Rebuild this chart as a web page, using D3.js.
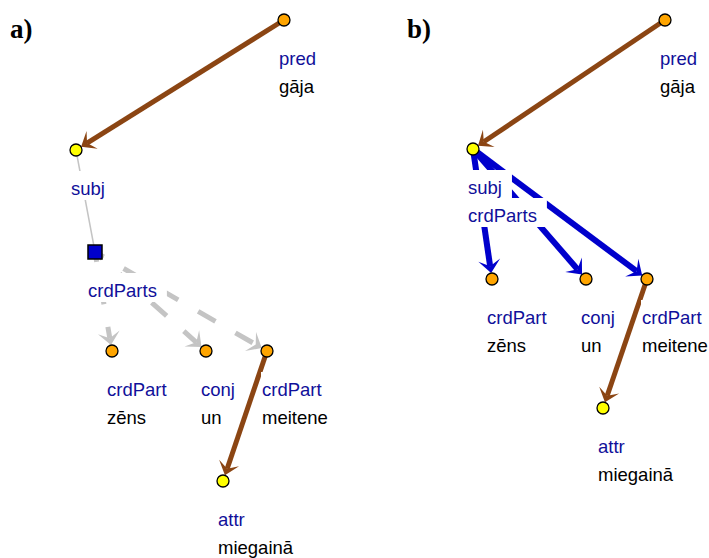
<!DOCTYPE html>
<html>
<head>
<meta charset="utf-8">
<script src="https://cdn.jsdelivr.net/npm/d3@7"></script>
<style>
  body { margin: 0; background: #fff; }
</style>
</head>
<body>
<div id="chart"></div>
<script>

// panel titles
var panelTitles = ["a)", "b)"];

// panel a: coordination as its own (square) node
var nodesA = [
  {id: "pred", roles: ["pred"], word: "gāja", x: 284, y: 20, kind: "orange"},
  {id: "subj", roles: ["subj"], word: "", x: 76, y: 150, kind: "yellow"},
  {id: "crd", roles: ["crdParts"], word: "", x: 95, y: 252, kind: "square"},
  {id: "zens", roles: ["crdPart"], word: "zēns", x: 112, y: 351, kind: "orange"},
  {id: "un", roles: ["conj"], word: "un", x: 206, y: 351, kind: "orange"},
  {id: "meit", roles: ["crdPart"], word: "meitene", x: 267, y: 351, kind: "orange"},
  {id: "attr", roles: ["attr"], word: "miegainā", x: 223, y: 481, kind: "yellow"}
];
var edgesA = [
  ["pred", "subj", "brown"],
  ["subj", "crd", "thin"],
  ["crd", "zens", "dash"],
  ["crd", "un", "dash"],
  ["crd", "meit", "dash"],
  ["meit", "attr", "brown"]
];

// panel b: coordination merged into subj
var nodesB = [
  {id: "pred", roles: ["pred"], word: "gāja", x: 284, y: 20, kind: "orange"},
  {id: "subj", roles: ["subj", "crdParts"], word: "", x: 92, y: 149, kind: "yellow"},
  {id: "zens", roles: ["crdPart"], word: "zēns", x: 111, y: 279, kind: "orange"},
  {id: "un", roles: ["conj"], word: "un", x: 205, y: 279, kind: "orange"},
  {id: "meit", roles: ["crdPart"], word: "meitene", x: 266, y: 279, kind: "orange"},
  {id: "attr", roles: ["attr"], word: "miegainā", x: 222, y: 408, kind: "yellow"}
];
var edgesB = [
  ["pred", "subj", "brown"],
  ["subj", "zens", "blue"],
  ["subj", "un", "blue"],
  ["subj", "meit", "blue"],
  ["meit", "attr", "brown"]
];

var svgWidth = 709;
var svgHeight = 558;
var roleColor = "#10109a";

var edgeStyle = {
  brown: {color: "#8b4513", width: 5, dash: null, head: true, back: 13, half: 10.5, notch: 7},
  blue:  {color: "#0000cc", width: 6, dash: null, head: true, back: 13, half: 11, notch: 7},
  dash:  {color: "#c4c4c4", width: 5, dash: "20,23", head: true, back: 13, half: 11, notch: 7},
  thin:  {color: "#c4c4c4", width: 1.5, dash: null, head: false}
};

var svg = d3.select("#chart")
  .append("svg")
  .attr("width", svgWidth)
  .attr("height", svgHeight)
  .style("font-family", "'Liberation Sans', Arial, sans-serif");

function drawPanel(nodes, edges, offset, title, titleX) {
  var xScale = d3.scaleLinear().domain([0, 330]).range([offset, offset + 330]);
  var yScale = d3.scaleLinear().domain([0, svgHeight]).range([0, svgHeight]);
  var byId = {};
  nodes.forEach(function(n) { byId[n.id] = n; });

  var g = svg.append("g");

  // title
  g.append("text")
    .attr("x", xScale(titleX))
    .attr("y", yScale(38))
    .style("font-family", "'Liberation Serif', 'Times New Roman', serif")
    .style("font-weight", "bold")
    .style("font-size", "27px")
    .text(title);

  var edgeG = g.append("g");
  edges.forEach(function(e) {
    var s = byId[e[0]], t = byId[e[1]], st = edgeStyle[e[2]];
    var x1 = xScale(s.x), y1 = yScale(s.y), x2 = xScale(t.x), y2 = yScale(t.y);
    var dx = x2 - x1, dy = y2 - y1, len = Math.hypot(dx, dy);
    var ux = dx / len, uy = dy / len;
    if (!st.head) {
      edgeG.append("line")
        .attr("x1", x1).attr("y1", y1).attr("x2", x2).attr("y2", y2)
        .attr("stroke", st.color).attr("stroke-width", st.width);
      return;
    }
    var r = t.kind == "square" ? 7 : 6;
    var tipX = x2 - ux * r, tipY = y2 - uy * r;
    edgeG.append("line")
      .attr("x1", x1).attr("y1", y1)
      .attr("x2", tipX - ux * st.notch).attr("y2", tipY - uy * st.notch)
      .attr("stroke", st.color)
      .attr("stroke-width", st.width)
      .attr("stroke-dasharray", st.dash)
      .attr("stroke-dashoffset", st.dash ? 10 : null);
    var ang = Math.atan2(dy, dx) * 180 / Math.PI;
    edgeG.append("path")
      .attr("d", "M0,0L" + (-st.back) + "," + (-st.half) + "L" + (-st.notch) + ",0L" + (-st.back) + "," + st.half + "Z")
      .attr("transform", "translate(" + tipX + "," + tipY + ") rotate(" + ang + ")")
      .attr("fill", st.color);
  });

  // labels with white boxes that hide the edges behind them
  var labelG = g.append("g");
  nodes.forEach(function(n) {
    var size = n.kind == "square" ? 7 : 5;
    var tx = xScale(n.x) - size;
    var lines = n.roles.map(function(r) { return {t: r, c: roleColor}; });
    if (n.word) lines.push({t: n.word, c: "#000"});
    lines.forEach(function(l, i) {
      var by = yScale(n.y) + 45 + i * 28;
      var rect = labelG.append("rect").attr("fill", "#fff");
      var txt = labelG.append("text")
        .attr("x", tx).attr("y", by)
        .style("font-size", "18.5px")
        .attr("fill", l.c)
        .text(l.t);
      var w = txt.node().getComputedTextLength();
      rect.attr("x", tx - 1).attr("y", by - 24).attr("width", w + 11).attr("height", 29);
    });
  });

  // nodes on top
  var nodeG = g.append("g");
  nodes.forEach(function(n) {
    if (n.kind == "square") {
      nodeG.append("rect")
        .attr("x", xScale(n.x) - 7).attr("y", yScale(n.y) - 7)
        .attr("width", 14).attr("height", 14)
        .attr("fill", "#0000cc").attr("stroke", "#000").attr("stroke-width", 1.5);
    } else {
      nodeG.append("circle")
        .attr("cx", xScale(n.x)).attr("cy", yScale(n.y))
        .attr("r", 6)
        .attr("fill", n.kind == "orange" ? "#ffa500" : "#ffff00")
        .attr("stroke", "#000").attr("stroke-width", 1.3);
    }
  });
}

drawPanel(nodesA, edgesA, 0, panelTitles[0], 10);
drawPanel(nodesB, edgesB, 381, panelTitles[1], 26);

</script>
</body>
</html>
